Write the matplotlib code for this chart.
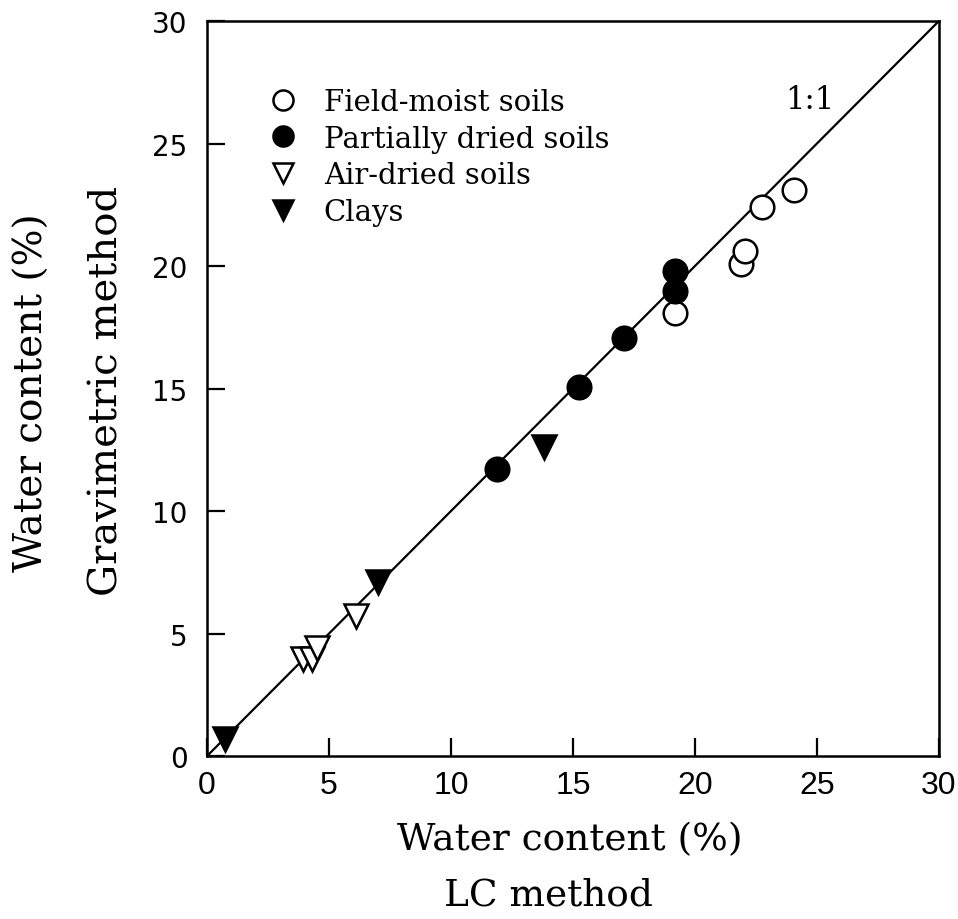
import numpy as np
import matplotlib.pyplot as plt

# water content (%) : LC method (x) vs gravimetric method (y)
field_lc = [19.2, 21.9, 22.05, 22.75, 24.05]
field_grav = [18.1, 20.1, 20.6, 22.4, 23.1]

partial_lc = [11.9, 15.25, 17.1, 19.2, 19.2]
partial_grav = [11.7, 15.05, 17.05, 19.0, 19.8]

air_lc = [3.95, 4.3, 4.5, 6.1]
air_grav = [3.95, 3.95, 4.4, 5.7]

clay_lc = [0.75, 7.0, 13.8]
clay_grav = [0.7, 7.1, 12.6]

plt.rcParams['font.family'] = 'DejaVu Serif'

fig = plt.figure(figsize=(9.58, 9.2), dpi=100)
ax = fig.add_axes([0.216, 0.177, 0.764, 0.799])

# 1:1 reference line
ax.plot([0, 30], [0, 30], color='black', lw=1.6, zorder=1)
ax.text(24.7, 26.8, '1:1', fontsize=22, ha='center', va='center')

mk = dict(markersize=17, markeredgewidth=1.8, linestyle='none', color='black')
ax.plot(field_lc, field_grav, 'o', markerfacecolor='white', label='Field-moist soils', zorder=3, **mk)
ax.plot(partial_lc, partial_grav, 'o', markerfacecolor='black', label='Partially dried soils', zorder=3, **mk)
ax.plot(air_lc, air_grav, 'v', markerfacecolor='white', label='Air-dried soils', zorder=3, **mk)
ax.plot(clay_lc, clay_grav, 'v', markerfacecolor='black', label='Clays', zorder=3, **mk)

ax.set_xlim(0, 30)
ax.set_ylim(0, 30)
ax.set_xticks(range(0, 31, 5))
ax.set_yticks(range(0, 31, 5))
ax.tick_params(direction='in', length=13, width=1.6, top=False, right=False)
ax.tick_params(axis='x', pad=10)
ax.tick_params(axis='y', pad=14)
for lab in ax.get_xticklabels():
    lab.set_family('Liberation Sans')
    lab.set_fontsize(23)
for lab in ax.get_yticklabels():
    lab.set_family('DejaVu Sans')
    lab.set_fontsize(20)
for sp in ax.spines.values():
    sp.set_linewidth(1.8)

# two-line axis titles
fig.text(0.595, 0.087, 'Water content (%)', fontsize=27, ha='center', va='center')
fig.text(0.573, 0.027, 'LC method', fontsize=27, ha='center', va='center')
fig.text(0.034, 0.573, 'Water content (%)', fontsize=28, ha='center', va='center', rotation=90)
fig.text(0.112, 0.575, 'Gravimetric method', fontsize=29, ha='center', va='center', rotation=90)

leg = ax.legend(loc='upper left', bbox_to_anchor=(0.052, 0.945), frameon=False,
                fontsize=21, markerscale=0.85, handlelength=0.8,
                handletextpad=1.0, labelspacing=0.3)

fig.savefig('out.png', dpi=100)
